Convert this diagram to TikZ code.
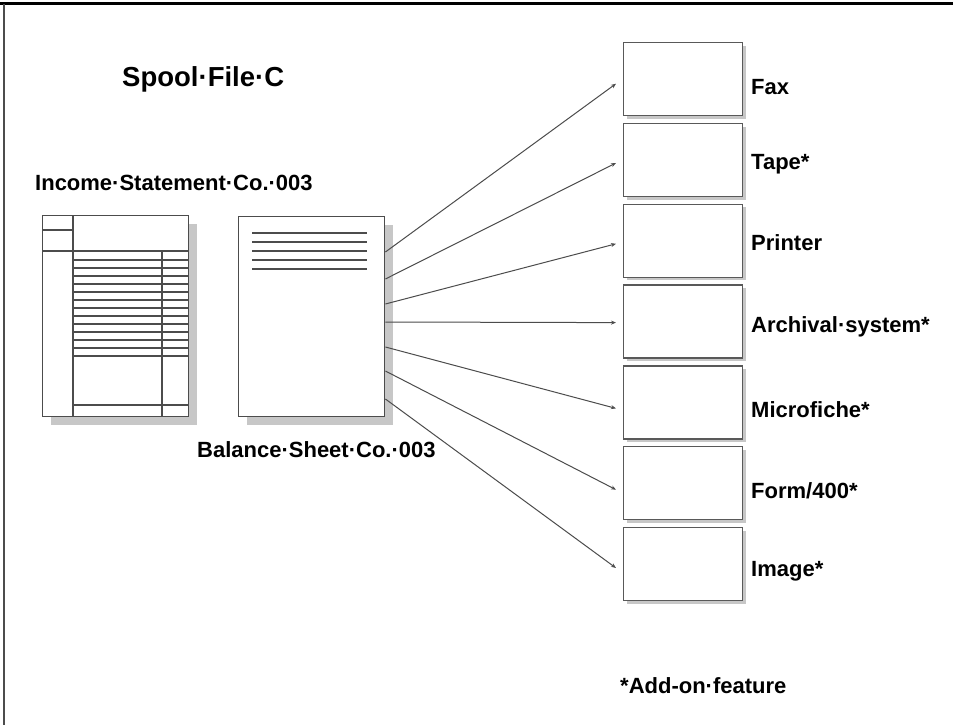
\documentclass[tikz,border=0pt]{standalone}
\usepackage{fontspec}
\setmainfont{Liberation Sans}
\usetikzlibrary{arrows.meta,shadows}

\tikzset{
  page/.style={draw=black!70, line width=1.4pt, fill=white, inner sep=0pt, anchor=north west,
    drop shadow={shadow xshift=8pt, shadow yshift=-8pt, fill=black!22, opacity=1}},
  outbox/.style={draw=black!65, line width=1.4pt, fill=white, inner sep=0pt, anchor=north west,
    minimum width=119pt, minimum height=73pt,
    drop shadow={shadow xshift=3pt, shadow yshift=-3pt, fill=black!22, opacity=1}},
  rule/.style={black!70, line width=1.3pt},
  feed/.style={black!70, line width=1pt, -{Stealth[length=5pt,width=4pt]}},
  lbl/.style={font=\bfseries\fontsize{22}{26}\selectfont, anchor=base west, inner sep=0pt},
}

\begin{document}
\begin{tikzpicture}[x=1pt,y=-1pt]
\useasboundingbox[fill=white] (0,0) rectangle (953,725);
\draw[line width=3pt] (0,4) -- (953,4);
\draw[black!70, line width=1.5pt] (4,4) -- (4,725);

\node[lbl, font=\bfseries\fontsize{27.5}{32}\selectfont] (title) at (122,87) {Spool·File·C};

\node[lbl] (inclbl) at (35,190) {Income·Statement·Co.·003};
\node[page, minimum width=146pt, minimum height=201pt] (income) at (42,215) {};
\draw[rule] (73,215) -- (73,416) (42,230) -- (73,230) (42,251) -- (188,251)
  (162,251) -- (162,416) (73,405) -- (188,405);
\foreach \k in {0,...,12}
  \draw[rule] (73,260+8*\k) -- (188,260+8*\k);

\node[page, minimum width=146pt, minimum height=200pt] (balance) at (238,216) {};
\foreach \k in {0,...,4}
  \draw[rule] (252,233+9*\k) -- (367,233+9*\k);
\node[lbl] (ballbl) at (197,457) {Balance·Sheet·Co.·003};

\foreach \n/\t/\b [count=\i from 0] in {fax/Fax/94, tape/Tape*/169, printer/Printer/250,
    archive/Archival·system*/332, fiche/Microfiche*/417, form/{Form/400*}/498, image/Image*/576} {
  \node[outbox] (\n) at (623,42+80.8*\i) {};
  \node[lbl] (\n lbl) at (751,\b) {\t};
}

\foreach \n/\s/\e in {fax/36/4.5, tape/63/3, printer/88/3, archive/106/1,
    fiche/131/6, form/155/6.5, image/183/4}
  \draw[feed] ([yshift=-\s pt]balance.north east) -- ([xshift=-7pt,yshift=-\e pt]\n.west);

\node[lbl] (note) at (620,693) {*Add-on·feature};

\end{tikzpicture}
\end{document}
